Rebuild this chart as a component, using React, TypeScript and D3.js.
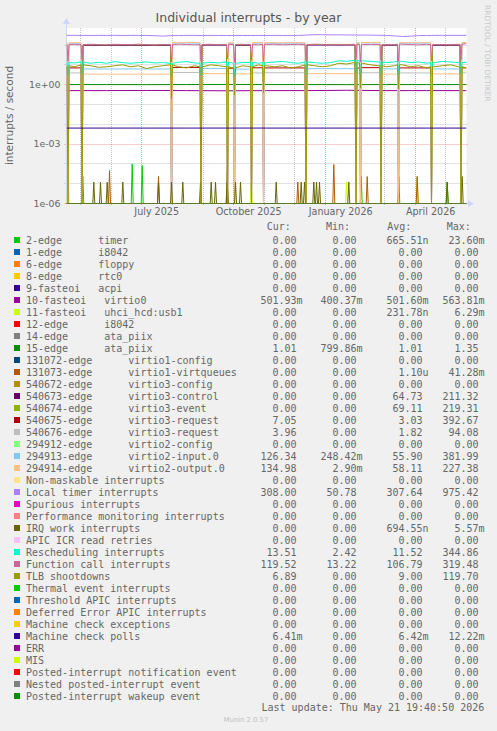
import React from "react";
import * as d3 from "d3";

// ---------- layout constants ----------
const W = 497;
const H = 731;
const PL = 66.5;
const PR = 466.5;
const PT = 28;
const PB = 203.5;
const Y_TOP_EXP = 2.86;

// ---------- time ----------
const DAY0 = Date.UTC(2025, 3, 16, 19, 40);
const DAY_MS = 86400000;
const NDAYS = 400;

// ---------- data ----------
const seriesNames = [
  "2-edge      timer",
  "1-edge      i8042",
  "6-edge      floppy",
  "8-edge      rtc0",
  "9-fasteoi   acpi",
  "10-fasteoi   virtio0",
  "11-fasteoi   uhci_hcd:usb1",
  "12-edge      i8042",
  "14-edge      ata_piix",
  "15-edge      ata_piix",
  "131072-edge      virtio1-config",
  "131073-edge      virtio1-virtqueues",
  "540672-edge      virtio3-config",
  "540673-edge      virtio3-control",
  "540674-edge      virtio3-event",
  "540675-edge      virtio3-request",
  "540676-edge      virtio3-request",
  "294912-edge      virtio2-config",
  "294913-edge      virtio2-input.0",
  "294914-edge      virtio2-output.0",
  "Non-maskable interrupts",
  "Local timer interrupts",
  "Spurious interrupts",
  "Performance monitoring interrupts",
  "IRQ work interrupts",
  "APIC ICR read retries",
  "Rescheduling interrupts",
  "Function call interrupts",
  "TLB shootdowns",
  "Thermal event interrupts",
  "Threshold APIC interrupts",
  "Deferred Error APIC interrupts",
  "Machine check exceptions",
  "Machine check polls",
  "ERR",
  "MIS",
  "Posted-interrupt notification event",
  "Nested posted-interrupt event",
  "Posted-interrupt wakeup event",
];

const palette = [
  "#00CC00", "#0066B3", "#FF8000", "#FFCC00", "#330099", "#990099", "#CCFF00", "#FF0000", "#808080",
  "#008F00", "#00487D", "#B35A00", "#B38F00", "#6B006B", "#8FB300", "#B30000", "#BEBEBE",
  "#80FF80", "#80C9FF", "#FFC080", "#FFE680", "#AA80FF", "#EE00CC", "#FF8080",
  "#666600", "#FFBFFF", "#00FFCC", "#CC6699", "#999900",
];

const legendCur = ["0.00","0.00","0.00","0.00","0.00","501.93m","0.00","0.00","0.00","1.01","0.00","0.00","0.00","0.00","0.00","7.05","3.96","0.00","126.34","134.98","0.00","308.00","0.00","0.00","0.00","0.00","13.51","119.52","6.89","0.00","0.00","0.00","0.00","6.41m","0.00","0.00","0.00","0.00","0.00"];
const legendMin = ["0.00","0.00","0.00","0.00","0.00","400.37m","0.00","0.00","0.00","799.86m","0.00","0.00","0.00","0.00","0.00","0.00","0.00","0.00","248.42m","2.90m","0.00","50.78","0.00","0.00","0.00","0.00","2.42","13.22","0.00","0.00","0.00","0.00","0.00","0.00","0.00","0.00","0.00","0.00","0.00"];
const legendAvg = ["665.51n","0.00","0.00","0.00","0.00","501.60m","231.78n","0.00","0.00","1.01","0.00","1.10u","0.00","64.73","69.11","3.03","1.82","0.00","55.90","58.11","0.00","307.64","0.00","0.00","694.55n","0.00","11.52","106.79","9.00","0.00","0.00","0.00","0.00","6.42m","0.00","0.00","0.00","0.00","0.00"];
const legendMax = ["23.60m","0.00","0.00","0.00","0.00","563.81m","6.29m","0.00","0.00","1.35","0.00","41.28m","0.00","211.32","219.31","392.67","94.08","0.00","381.99","227.38","0.00","975.42","0.00","0.00","5.57m","0.00","344.86","319.48","119.70","0.00","0.00","0.00","0.00","12.22m","0.00","0.00","0.00","0.00","0.00"];

// days (since start of graph) where the guest rebooted
const rebootDays = [1.5, 15.5, 105, 134.5, 161, 168, 185, 197, 239.5, 289.5, 294, 314.5, 332, 365, 394.5];

// per boot-session levels (16 sessions)
const virtio3Control = [0, 0, 96, 0, 99, 0, 97, 0, 0, 100, 0, 0, 98, 0, 97, 0];
const virtio3Event = [0, 0, 103, 0, 106, 0, 104, 0, 0, 107, 0, 0, 105, 0, 104, 0];
const virtio3Request1 = [7.2, 7.0, 0, 7.4, 0, 6.8, 0, 7.1, 7.0, 0, 6.9, 7.2, 0, 7.0, 0, 7.05];
const virtio3Request2 = [3.8, 3.9, 0, 4.1, 0, 3.7, 0, 3.9, 4.0, 0, 3.8, 4.0, 0, 3.9, 0, 3.96];
const virtio2Input = [124, 123, 6.2, 126, 6.5, 122, 6.1, 125, 124, 6.4, 121, 127, 6.3, 125, 6.2, 126.34];
const virtio2Output = [133, 131, 3.4, 135, 3.6, 130, 3.5, 134, 132, 3.6, 129, 136, 3.4, 133, 3.5, 134.98];

// evenly spaced samples over the year
const localTimerSamples = [310,308,306,305,307,306,308,305,307,306,304,296,282,298,305,306,307,304,306,305,303,300,304,302,305,304,306,305,304,306,318,330,332,328,326,325,322,318,316,312,305,290,270,280,300,305,306,308,307,306,308];
const functionCallSamples = [104,108,103,110,106,102,109,107,104,111,106,101,108,105,110,107,103,106,109,104,108,106,110,105,103,107,109,104,106,108,105,110,107,104,106,103,109,105,108,106,104,107,110,106,103,108,105,107,104,109,118];
const reschedSamples = [13,12.5,14,12,13.5,12,14.5,13,12,13,14,12.5,13,12,13.5,14.5,12.5,12,13.5,12.5,14,12,13,13.5,12,13,14,15,13,12,14,13,12,13,16,15,17,16,15,14,13,14,15,13,14,12,13,15,14,13,13.5];
const tlbSamples = [9,8,10,9,7.5,8,9,10,8,9,6.5,8,9,10,8,7,9,8,10,9,8,7,9,8,10,9,8,9,7,8,10,9,8,9,12,11,13,12,10,9,8,9,10,8,9,7,8,9,10,8,7];
const virtio0Samples = [0.50, 0.50, 0.51, 0.50, 0.49, 0.50, 0.50, 0.52, 0.50, 0.50, 0.50];
const ata15Samples = [1.01, 1.01, 1.00, 1.01, 1.02, 1.01, 1.01, 1.00, 1.01, 1.01, 1.01];
const mcPollSamples = [0.00642, 0.00642, 0.00641, 0.00642, 0.00643, 0.00642, 0.00642, 0.00641, 0.00642, 0.00642, 0.00641];

// values on the reboot days (one per entry of rebootDays)
const functionCallRebootVals = [15, 18, 14, 16, 20, 13.5, 17, 15, 16, 19, 14, 17, 15, 16, 18];
const reschedRebootVals = [3, 3.5, 2.5, 3, 4, 2.8, 3.2, 2.6, 3.1, 3.8, 2.5, 3, 3.3, 2.9, 3.4];
const tlbRebootVals = [0, 0, 0.2, 0, 0, 0.3, 0, 0.4, 0, 0, 0.7, 0, 0.6, 0, 0];

// sparse events [day, rate]
const timerSpikes: [number, number][] = [[16.3, 2.3e-5], [65.7, 1.0e-4], [75.7, 8.3e-5], [294.7, 2.3e-5], [332.3, 2.3e-5], [380.7, 1.2e-5]];
const usbSpikes: [number, number][] = [[1.5, 1.0e-4], [184.7, 1.2e-5], [280, 1.2e-5], [350.7, 2.3e-5]];
const virtio1Spikes: [number, number][] = [[43, 4.6e-5], [92, 2.3e-5], [160.7, 4.6e-5], [231.3, 1.2e-5], [267.3, 9.3e-5], [300.7, 2.3e-5], [350.7, 2.3e-5]];
const irqWorkSpikes: [number, number][] = [[27.3,1.2e-5],[34,1.2e-5],[40.7,1.2e-5],[56.3,1.2e-5],[92,1.2e-5],[105,1.2e-5],[116.3,1.2e-5],[134,1.2e-5],[144.7,1.2e-5],[149,1.2e-5],[160.7,1.2e-5],[169,1.2e-5],[174,1.2e-5],[209.7,1.2e-5],[234.7,1.2e-5],[238,1.2e-5],[247.3,1.2e-5],[250,1.2e-5],[253,1.2e-5],[282.3,1.2e-5],[380.7,1.2e-5],[395.7,2.3e-5]];

const yMajorExps = [-6, -3, 0];
const yMinorExps = [-5, -4, -2, -1, 1, 2];

type Pt = [number, number];
type Spec =
  | { kind: "zero" }
  | { kind: "session"; vals: number[] }
  | { kind: "samples"; vals: number[]; reboot?: number[] }
  | { kind: "spikes"; events: [number, number][] };

const seriesData: Record<number, Spec> = {
  0: { kind: "spikes", events: timerSpikes },
  5: { kind: "samples", vals: virtio0Samples },
  6: { kind: "spikes", events: usbSpikes },
  9: { kind: "samples", vals: ata15Samples },
  11: { kind: "spikes", events: virtio1Spikes },
  13: { kind: "session", vals: virtio3Control },
  14: { kind: "session", vals: virtio3Event },
  15: { kind: "session", vals: virtio3Request1 },
  16: { kind: "session", vals: virtio3Request2 },
  18: { kind: "session", vals: virtio2Input },
  19: { kind: "session", vals: virtio2Output },
  21: { kind: "samples", vals: localTimerSamples },
  24: { kind: "spikes", events: irqWorkSpikes },
  26: { kind: "samples", vals: reschedSamples, reboot: reschedRebootVals },
  27: { kind: "samples", vals: functionCallSamples, reboot: functionCallRebootVals },
  28: { kind: "samples", vals: tlbSamples, reboot: tlbRebootVals },
  33: { kind: "samples", vals: mcPollSamples },
};

function buildPoints(spec: Spec): Pt[] {
  if (spec.kind === "zero") return [[0, 0], [NDAYS, 0]];
  if (spec.kind === "spikes") {
    const pts: Pt[] = [[0, 0]];
    spec.events.forEach(([d, v]) => {
      pts.push([d - 1, 0], [d, v], [d + 1, 0]);
    });
    pts.push([NDAYS, 0]);
    return pts;
  }
  if (spec.kind === "session") {
    const b = [0, ...rebootDays, NDAYS];
    const pts: Pt[] = [];
    const n = b.length - 1;
    for (let i = 0; i < n; i++) {
      const v = spec.vals[i];
      const s = i === 0 ? b[i] : b[i] + 1;
      const e = i === n - 1 ? b[i + 1] : b[i + 1] - 1;
      pts.push([s, v], [Math.max(s, e), v]);
      if (i < n - 1) pts.push([b[i + 1], 0]);
    }
    return pts;
  }
  const n = spec.vals.length;
  const step = NDAYS / (n - 1);
  const pts: Pt[] = spec.vals.map((v, i) => [i * step, v] as Pt);
  if (spec.reboot) {
    const rv = spec.reboot;
    const near: Pt[] = [];
    rebootDays.forEach((r, k) => {
      const v = spec.vals[Math.round(r / step)];
      near.push([r - 1, v], [r, rv[k]], [r + 1, v]);
    });
    const kept = pts.filter(([d]) => !rebootDays.some((r) => Math.abs(d - r) < 1.01));
    return [...kept, ...near].sort((a, b) => a[0] - b[0]);
  }
  return pts;
}

function fmtVal(s: string): string {
  const last = s[s.length - 1];
  const hasSuf = /[a-zA-Z]/.test(last);
  const num = hasSuf ? s.slice(0, -1) : s;
  const suf = hasSuf ? last : " ";
  return num.padStart(6, " ") + suf;
}

function expLabel(e: number): string {
  const a = Math.abs(e);
  return "1e" + (e < 0 ? "-" : "+") + (a < 10 ? "0" + a : String(a));
}

export default function App() {
  const xScale = d3.scaleUtc().domain([new Date(DAY0), new Date(DAY0 + NDAYS * DAY_MS)]).range([PL, PR]);
  const xd = (d: number) => xScale(new Date(DAY0 + d * DAY_MS));
  const yScale = d3.scaleLog().domain([1e-6, Math.pow(10, Y_TOP_EXP)]).range([PB, PT]);
  const yv = (v: number) => (v <= 0 ? PB : yScale(v));
  const lineGen = d3.line<Pt>().x((p) => xd(p[0])).y((p) => yv(p[1]));

  const months = d3.utcMonth.range(new Date(DAY0), new Date(DAY0 + NDAYS * DAY_MS));
  const fmtMonth = d3.utcFormat("%B %Y");
  const labelMonths = months.filter((m) => m.getUTCMonth() % 3 === 0);

  const crisp = (v: number) => Math.round(v - 0.5) + 0.5;

  const minorC = "rgba(150,150,150,0.55)";
  const majorC = "rgba(240,80,80,0.55)";
  const font = "'DejaVu Sans', sans-serif";
  const mono = "'DejaVu Sans Mono', monospace";
  const textC = "#666666";

  const colW = [260.5, 320.5, 386.5, 442.5];

  return (
    <svg
      width={W}
      height={H}
      viewBox={`0 0 ${W} ${H}`}
      style={{ position: "absolute", left: 0, top: 0, display: "block" }}
    >
      <defs>
        <clipPath id="plotclip">
          <rect x={PL} y={PT} width={PR - PL} height={PB - PT} />
        </clipPath>
      </defs>
      <rect x={0} y={0} width={W} height={H} fill="#F0F0F0" />
      <rect x={PL} y={PT} width={PR - PL} height={PB - PT} fill="#FFFFFF" />

      {/* title */}
      <text x={248.5} y={22.3} textAnchor="middle" fontFamily={font} fontSize={12.5} fill="#555555">
        Individual interrupts - by year
      </text>
      {/* watermark */}
      <text transform={`translate(484.5,5) rotate(90)`} fontFamily={font} fontSize={7.5} fill="#C8C8C8">
        RRDTOOL / TOBI OETIKER
      </text>
      {/* y axis title */}
      <text
        transform={`translate(13,115.5) rotate(-90)`}
        textAnchor="middle"
        fontFamily={font}
        fontSize={10.5}
        fill={textC}
      >
        interrupts / second
      </text>

      {/* grid */}
      <g>
        {yMinorExps.map((e) => {
          const yy = crisp(yScale(Math.pow(10, e)));
          if (yy < PT) return null;
          return <line key={"ym" + e} x1={PL - 2} x2={PR + 2} y1={yy} y2={yy} stroke={minorC} strokeDasharray="1,1" />;
        })}
        {months.map((m, i) => {
          const xx = crisp(xScale(m));
          const major = m.getUTCMonth() % 3 === 0;
          return (
            <line
              key={"xm" + i}
              x1={xx}
              x2={xx}
              y1={PT}
              y2={PB + 2}
              stroke={major ? majorC : minorC}
              strokeDasharray="1,1"
            />
          );
        })}
        {yMajorExps.map((e) => {
          const yy = crisp(yScale(Math.pow(10, e)));
          return <line key={"yM" + e} x1={PL - 2} x2={PR + 2} y1={yy} y2={yy} stroke={majorC} strokeDasharray="1,1" />;
        })}
      </g>

      {/* axes */}
      <line x1={PL} x2={PL} y1={PB} y2={21} stroke="#CFD6F8" />
      <path d={`M${PL - 3.5},${24} L${PL + 3.5},${24} L${PL},${18} Z`} fill="#CFD6F8" />
      <line x1={PL} x2={470} y1={PB} y2={PB} stroke="#CFD6F8" />
      <path d={`M${468},${PB - 3.5} L${468},${PB + 3.5} L${474},${PB} Z`} fill="#CFD6F8" />

      {/* y tick labels */}
      {yMajorExps.map((e) => (
        <text
          key={"yl" + e}
          x={60.5}
          y={yScale(Math.pow(10, e)) + 3.4}
          textAnchor="end"
          fontFamily={font}
          fontSize={9.4}
          fill={textC}
        >
          {expLabel(e)}
        </text>
      ))}
      {/* x tick labels */}
      {labelMonths.map((m, i) => {
        const cx = xScale(new Date(m.getTime() + 15 * DAY_MS));
        if (cx < PL || cx > PR) return null;
        return (
          <text key={"xl" + i} x={cx} y={215.3} textAnchor="middle" fontFamily={font} fontSize={9.6} fill={textC}>
            {fmtMonth(m)}
          </text>
        );
      })}

      {/* data */}
      <g clipPath="url(#plotclip)">
        {seriesNames.map((_, i) => {
          const spec: Spec = seriesData[i] || { kind: "zero" };
          const d = lineGen(buildPoints(spec)) || "";
          return <path key={"s" + i} d={d} fill="none" stroke={palette[i % palette.length]} strokeWidth={1} />;
        })}
      </g>

      {/* legend */}
      <g fontFamily={mono} fontSize={10} fill={textC}>
        <text x={266.7} y={230.2}>Cur:</text>
        <text x={326} y={230.2}>Min:</text>
        <text x={387.3} y={230.2}>Avg:</text>
        <text x={446.7} y={230.2}>Max:</text>
        {seriesNames.map((name, i) => {
          const cy = 240 + i * 12;
          return (
            <g key={"lg" + i}>
              <rect x={14} y={cy - 3} width={6} height={6} fill={palette[i % palette.length]} />
              <text x={26} y={cy + 3.5} style={{ whiteSpace: "pre" }}>{name}</text>
              {[legendCur[i], legendMin[i], legendAvg[i], legendMax[i]].map((v, j) => (
                <text key={j} x={colW[j]} y={cy + 3.5} style={{ whiteSpace: "pre" }}>
                  {fmtVal(v)}
                </text>
              ))}
            </g>
          );
        })}
        <text x={261.5} y={711.2} style={{ whiteSpace: "pre" }}>Last update: Thu May 21 19:40:50 2026</text>
      </g>
      <text x={246} y={722} textAnchor="middle" fontFamily={font} fontSize={6.8} fill="#C0C0C0">
        Munin 2.0.57
      </text>
    </svg>
  );
}
